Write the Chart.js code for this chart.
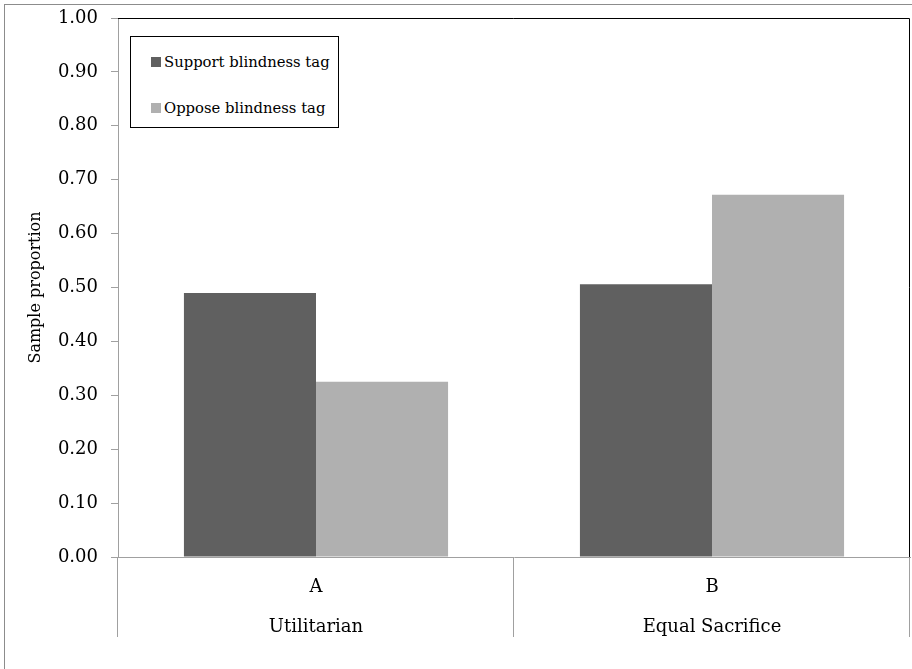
<!DOCTYPE html>
<html>
<head>
<meta charset="utf-8">
<script src="https://cdn.jsdelivr.net/npm/chart.js@4"></script>
<style>
  body { margin: 0; background: #fff; }
  #wrap { position: relative; width: 912px; height: 669px; }
  #frame { position: absolute; left: 4px; top: 4px; width: 920px; height: 680px;
           border-left: 1px solid #8c8c8c; border-top: 1px solid #8c8c8c; }
  #chart { position: absolute; left: 0; top: 0; }
  #legend { position: absolute; left: 130px; top: 36px; width: 209px; height: 92px;
            border: 1px solid #000; background: #fff; box-sizing: border-box;
            font-family: "DejaVu Serif", serif; font-size: 14.8px; color: #000; }
  .item { position: absolute; left: 20px; white-space: nowrap; line-height: 18px; }
  .box { display: inline-block; width: 10px; height: 10px; margin-right: 3px; }
</style>
</head>
<body>
<div id="wrap">
  <div id="frame"></div>
  <canvas id="chart" width="912" height="669"></canvas>
  <div id="legend"></div>
</div>
<script>
const categories = ['A', 'B'];
const groups = ['Utilitarian', 'Equal Sacrifice'];
const support = [0.49, 0.506];
const oppose = [0.325, 0.672];
const seriesNames = ['Support blindness tag', 'Oppose blindness tag'];
const seriesColors = ['#606060', '#b0b0b0'];

const serif = '"DejaVu Serif", serif';

// separators under the x axis and dark top/right edges of the plot
const framePlugin = {
    id: 'framePlugin',
    afterDraw(chart) {
        const ctx = chart.ctx;
        const a = chart.chartArea;
        const x = chart.scales.x;
        const mid = (x.getPixelForValue(0) + x.getPixelForValue(1)) / 2;
        ctx.save();
        ctx.strokeStyle = '#a0a0a0';
        ctx.lineWidth = 1;
        [a.left, mid, a.right].forEach(px => {
            ctx.beginPath();
            ctx.moveTo(Math.round(px) - 0.5, a.bottom);
            ctx.lineTo(Math.round(px) - 0.5, a.bottom + 80);
            ctx.stroke();
        });
        ctx.strokeStyle = '#000';
        ctx.beginPath();
        ctx.moveTo(a.left, a.top + 0.5);
        ctx.lineTo(a.right - 0.5, a.top + 0.5);
        ctx.lineTo(a.right - 0.5, a.bottom);
        ctx.stroke();
        ctx.restore();
    }
};

const chart = new Chart(document.getElementById('chart'), {
    type: 'bar',
    data: {
        labels: categories.map((c, i) => [c, groups[i]]),
        datasets: [
            { label: seriesNames[0], data: support, backgroundColor: seriesColors[0] },
            { label: seriesNames[1], data: oppose, backgroundColor: seriesColors[1] }
        ]
    },
    options: {
        responsive: false,
        animation: false,
        layout: { autoPadding: false, padding: { top: 18, right: 2, left: 20, bottom: 0 } },
        datasets: { bar: { categoryPercentage: 0.667, barPercentage: 1.0 } },
        plugins: { legend: { display: false }, tooltip: { enabled: false } },
        scales: {
            x: {
                grid: { display: false, drawTicks: false },
                border: { color: '#a0a0a0' },
                ticks: {
                    color: '#000',
                    padding: 11,
                    font: { family: serif, size: 18, lineHeight: 2.2 }
                },
                afterFit(scale) { scale.height = 112; }
            },
            y: {
                min: 0,
                max: 1,
                grid: { drawOnChartArea: false, tickLength: 7, color: '#a0a0a0' },
                border: { color: '#a0a0a0' },
                ticks: {
                    stepSize: 0.1,
                    color: '#000',
                    padding: 13,
                    font: { family: serif, size: 18 },
                    callback: v => v.toFixed(2)
                },
                title: {
                    display: true,
                    text: 'Sample proportion',
                    color: '#000',
                    padding: { top: 6, bottom: 4 },
                    font: { family: serif, size: 16 }
                },
                afterFit(scale) {
                    scale.width = 98;
                    scale.paddingTop = 0;
                    scale.paddingBottom = 0;
                }
            }
        }
    },
    plugins: [framePlugin]
});

// legend box drawn inside the plot
const legend = document.getElementById('legend');
seriesNames.forEach((name, i) => {
    const item = document.createElement('div');
    item.className = 'item';
    item.style.top = (i === 0 ? 16 : 62) + 'px';
    item.innerHTML = '<span class="box" style="background:' + seriesColors[i] + '"></span>' + name;
    legend.appendChild(item);
});
</script>
</body>
</html>
